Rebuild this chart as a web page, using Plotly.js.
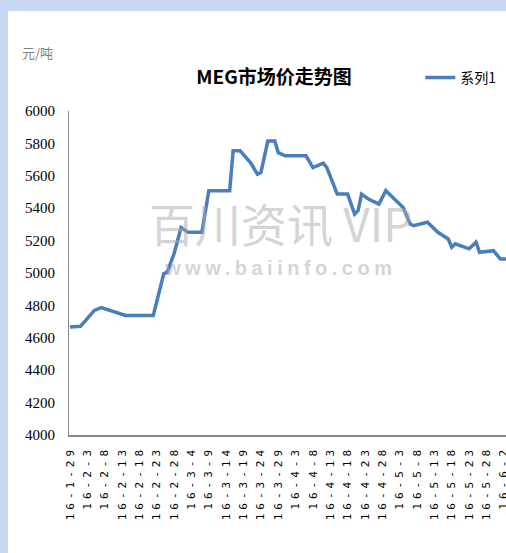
<!DOCTYPE html>
<html>
<head>
<meta charset="utf-8">
<script src="https://cdn.plot.ly/plotly-3.0.1.min.js"></script>
<style>
  body { margin: 0; background: #c6d9f1; overflow: hidden; }
  #chart { position: absolute; left: 8px; top: 11px; width: 532px; height: 542px; background: #fff; }
  .xtick text { letter-spacing: 4px; }
  .annotation[data-index="2"] text { letter-spacing: 4.5px; }
</style>
</head>
<body>
<div id="chart"></div>
<script>
// MEG market price, 2016 (元/吨)
var dates = ["2016-01-29", "2016-02-01", "2016-02-05", "2016-02-07", "2016-02-14", "2016-02-22",
  "2016-02-25", "2016-02-26", "2016-02-28", "2016-03-01", "2016-03-03", "2016-03-07",
  "2016-03-09", "2016-03-15", "2016-03-16", "2016-03-18", "2016-03-21", "2016-03-23",
  "2016-03-24", "2016-03-26", "2016-03-28", "2016-03-29", "2016-03-31", "2016-04-06",
  "2016-04-08", "2016-04-11", "2016-04-12", "2016-04-15", "2016-04-18", "2016-04-20",
  "2016-04-21", "2016-04-22", "2016-04-24", "2016-04-27", "2016-04-29", "2016-05-01",
  "2016-05-04", "2016-05-06", "2016-05-07", "2016-05-11", "2016-05-14", "2016-05-17",
  "2016-05-18", "2016-05-19", "2016-05-23", "2016-05-25", "2016-05-26", "2016-05-30",
  "2016-06-01", "2016-06-03"];
var prices = [4666, 4671, 4769, 4786, 4738, 4738,
  4995, 5005, 5120, 5280, 5251, 5251,
  5508, 5508, 5754, 5754, 5682, 5610,
  5620, 5815, 5815, 5743, 5723, 5723,
  5651, 5678, 5651, 5487, 5487, 5364,
  5385, 5487, 5457, 5425, 5508, 5467,
  5405, 5303, 5292, 5313, 5251, 5210,
  5159, 5180, 5149, 5190, 5128, 5138,
  5087, 5087];

var tickDates = ["2016-01-29", "2016-02-03", "2016-02-08", "2016-02-13", "2016-02-18", "2016-02-23",
  "2016-02-28", "2016-03-04", "2016-03-09", "2016-03-14", "2016-03-19", "2016-03-24",
  "2016-03-29", "2016-04-03", "2016-04-08", "2016-04-13", "2016-04-18", "2016-04-23",
  "2016-04-28", "2016-05-03", "2016-05-08", "2016-05-13", "2016-05-18", "2016-05-23",
  "2016-05-28", "2016-06-02", "2016-06-07"];
var tickLabels = ["16-1-29", "16-2-3", "16-2-8", "16-2-13", "16-2-18", "16-2-23",
  "16-2-28", "16-3-4", "16-3-9", "16-3-14", "16-3-19", "16-3-24",
  "16-3-29", "16-4-3", "16-4-8", "16-4-13", "16-4-18", "16-4-23",
  "16-4-28", "16-5-3", "16-5-8", "16-5-13", "16-5-18", "16-5-23",
  "16-5-28", "16-6-2", "16-6-7"];
var yTicks = [4000, 4200, 4400, 4600, 4800, 5000, 5200, 5400, 5600, 5800, 6000];

var trace = {
  x: dates,
  y: prices,
  type: "scatter",
  mode: "lines",
  name: "系列1",
  line: { color: "#4a7ebb", width: 3.5 }
};

var layout = {
  width: 532,
  height: 542,
  margin: { l: 61, r: 10, t: 100, b: 118, autoexpand: false },
  paper_bgcolor: "#fff",
  plot_bgcolor: "#fff",
  title: {
    text: "<b>MEG市场价走势图</b>",
    font: { family: "Noto Sans CJK SC", size: 19, color: "#000" },
    x: 0.5, xref: "container", y: 0.878, yref: "container", yanchor: "middle"
  },
  showlegend: true,
  legend: {
    x: 0.775, xref: "container", xanchor: "left",
    y: 0.906, yref: "container", yanchor: "top",
    font: { family: "Noto Sans CJK SC", size: 14, color: "#000" },
    bgcolor: "rgba(0,0,0,0)"
  },
  xaxis: {
    type: "date",
    range: ["2016-01-28 16:48", "2016-06-09 13:12"],
    tickvals: tickDates,
    ticktext: tickLabels,
    tickangle: -90,
    tickfont: { family: "DejaVu Sans Mono", size: 11, color: "#000" },
    ticks: "",
    ticklabelstandoff: 5,
    showgrid: false,
    zeroline: false,
    showline: true,
    linecolor: "#868686",
    linewidth: 1.5
  },
  yaxis: {
    range: [4000, 6000],
    tickvals: yTicks,
    ticks: "",
    tickfont: { family: "Liberation Sans Narrow", size: 15, color: "#000" },
    ticklabelstandoff: 10,
    showgrid: false,
    zeroline: false,
    showline: true,
    linecolor: "#868686",
    linewidth: 1
  },
  annotations: [
    { text: "元/吨", xref: "paper", yref: "paper", x: -0.106, y: 1.182,
      xanchor: "left", yanchor: "middle", showarrow: false,
      font: { family: "Noto Sans CJK SC", size: 13, color: "#7f7f7f" } },
    { text: "百川资讯 VIP", xref: "paper", yref: "paper", x: 0.458, y: 0.657,
      xanchor: "center", yanchor: "middle", showarrow: false,
      font: { family: "Noto Sans CJK SC", size: 46, color: "rgba(170,170,170,0.5)" } },
    { text: "<b>www.baiinfo.com</b>", xref: "paper", yref: "paper", x: 0.458, y: 0.515,
      xanchor: "center", yanchor: "middle", showarrow: false,
      font: { family: "Liberation Sans", size: 20, color: "rgba(170,170,170,0.5)" } }
  ]
};

Plotly.newPlot("chart", [trace], layout, { displayModeBar: false, staticPlot: true });
</script>
</body>
</html>
